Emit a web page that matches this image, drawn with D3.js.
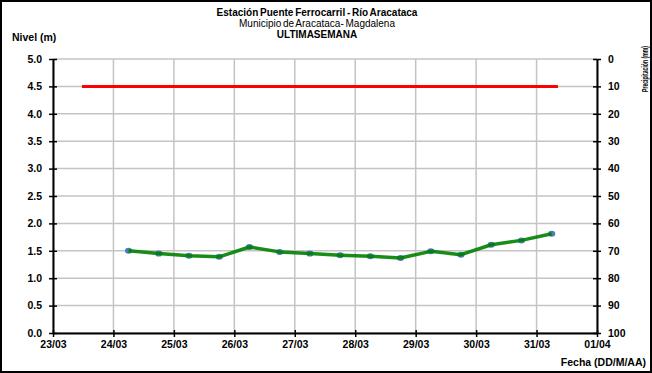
<!DOCTYPE html>
<html>
<head>
<meta charset="utf-8">
<script src="https://cdn.jsdelivr.net/npm/d3@7"></script>
<style>
  body { margin: 0; background: #fff; }
  text { font-family: "Liberation Sans", Arial, sans-serif; }
</style>
</head>
<body>
<div id="chart"></div>
<script>
// nivel del rio, ultima semana
var fechas = ["24/03 06:00", "24/03 18:00", "25/03 06:00", "25/03 18:00", "26/03 06:00",
  "26/03 18:00", "27/03 06:00", "27/03 18:00", "28/03 06:00", "28/03 18:00",
  "29/03 06:00", "29/03 18:00", "30/03 06:00", "30/03 18:00", "31/03 06:00"];
var nivel = [1.50, 1.45, 1.41, 1.39, 1.57, 1.48, 1.45, 1.42, 1.40, 1.37, 1.49, 1.43, 1.61, 1.69, 1.81];

// nivel de alerta
var umbralFechas = ["23/03 11:30", "31/03 08:30"];
var umbralNivel = [4.5, 4.5];

var dominioFechas = ["23/03 00:00", "01/04 00:00"];
var ticksNivel = [0, 0.5, 1, 1.5, 2, 2.5, 3, 3.5, 4, 4.5, 5];
var ticksPrecip = [0, 10, 20, 30, 40, 50, 60, 70, 80, 90, 100];

var W = 652, H = 373;
var margin = {top: 59, right: 55, bottom: 40, left: 53};

var parseFecha = d3.timeParse("%d/%m %H:%M");

var svg = d3.select("#chart").append("svg")
  .attr("width", W)
  .attr("height", H);

// marco exterior
svg.append("rect")
  .attr("x", 1).attr("y", 1)
  .attr("width", W - 2).attr("height", H - 2)
  .attr("fill", "#fff")
  .attr("stroke", "#000")
  .attr("stroke-width", 2);

var x = d3.scaleTime()
  .domain(dominioFechas.map(parseFecha))
  .range([margin.left, W - margin.right]);
var y = d3.scaleLinear().domain([0, 5]).range([H - margin.bottom, margin.top]);
var y2 = d3.scaleLinear().domain([0, 100]).range([margin.top, H - margin.bottom]);

var dias = d3.timeDay.range(x.domain()[0], d3.timeDay.offset(x.domain()[1], 1));

// grid
svg.append("g").selectAll("line.h")
  .data(ticksNivel)
  .enter().append("line")
    .attr("x1", margin.left).attr("x2", W - margin.right)
    .attr("y1", function(d) { return y(d); })
    .attr("y2", function(d) { return y(d); })
    .attr("stroke", "#c4c4c4")
    .attr("stroke-width", 1.5);

svg.append("g").selectAll("line.v")
  .data(dias)
  .enter().append("line")
    .attr("x1", function(d) { return x(d); })
    .attr("x2", function(d) { return x(d); })
    .attr("y1", margin.top).attr("y2", H - margin.bottom)
    .attr("stroke", "#c4c4c4")
    .attr("stroke-width", 1.5);

// ejes
var yAxis = svg.append("g")
  .attr("transform", "translate(" + margin.left + ",0)")
  .call(d3.axisLeft(y).tickValues(ticksNivel).tickFormat(d3.format(".1f")).tickSizeInner(4).tickSizeOuter(0).tickPadding(7));

var y2Axis = svg.append("g")
  .attr("transform", "translate(" + (W - margin.right) + ",0)")
  .call(d3.axisRight(y2).tickValues(ticksPrecip).tickFormat(d3.format("d")).tickSizeInner(4).tickSizeOuter(0).tickPadding(7));

var xAxis = svg.append("g")
  .attr("transform", "translate(0," + (H - margin.bottom) + ")")
  .call(d3.axisBottom(x).tickValues(dias).tickFormat(d3.timeFormat("%d/%m")).tickSizeInner(4).tickSizeOuter(0).tickPadding(4));

[yAxis, y2Axis, xAxis].forEach(function(a) {
  a.select(".domain").attr("stroke", "#000").attr("stroke-width", 2);
  a.selectAll(".tick line").attr("stroke", "#000").attr("stroke-width", 1.5);
  a.selectAll(".tick text")
    .style("font-size", "10.5px")
    .style("font-weight", "bold")
    .style("font-family", "\"Liberation Sans\", Arial, sans-serif")
    .attr("fill", "#000");
});
// marcas que cruzan el eje
yAxis.selectAll(".tick line").attr("x1", 4);
y2Axis.selectAll(".tick line").attr("x1", -4);
xAxis.selectAll(".tick line").attr("y1", -3);

// umbral
var umbral = umbralFechas.map(function(f, i) { return {t: parseFecha(f), v: umbralNivel[i]}; });
var linea = d3.line()
  .x(function(d) { return x(d.t); })
  .y(function(d) { return y(d.v); });

svg.append("path")
  .datum(umbral)
  .attr("d", linea)
  .attr("fill", "none")
  .attr("stroke", "#ff0000")
  .attr("stroke-width", 3);

// serie nivel
var datos = fechas.map(function(f, i) { return {t: parseFecha(f), v: nivel[i]}; });

svg.append("g").selectAll("ellipse")
  .data(datos)
  .enter().append("ellipse")
    .attr("cx", function(d) { return x(d.t); })
    .attr("cy", function(d) { return y(d.v); })
    .attr("rx", 3.6).attr("ry", 3)
    .attr("fill", "#4a7ebb");

svg.append("path")
  .datum(datos)
  .attr("d", linea)
  .attr("fill", "none")
  .attr("stroke", "#008000")
  .attr("stroke-width", 3.5)
  .attr("stroke-linejoin", "round")
  .attr("opacity", 0.9);

// titulos
var titulos = [
  {t: "Estación Puente Ferrocarril - Río Aracataca", y: 16, w: "bold"},
  {t: "Municipio de Aracataca- Magdalena", y: 27, w: "normal"},
  {t: "ULTIMA SEMANA", y: 38, w: "bold"}
];
svg.selectAll("text.titulo")
  .data(titulos)
  .enter().append("text")
    .attr("class", "titulo")
    .attr("x", 317)
    .attr("y", function(d) { return d.y; })
    .attr("text-anchor", "middle")
    .style("font-size", "10px")
    .style("font-weight", function(d) { return d.w; })
    .style("word-spacing", function(d, i) { return i === 2 ? "-2.5px" : "-1px"; })
    .text(function(d) { return d.t; });

svg.append("text")
  .attr("x", 12).attr("y", 41)
  .style("font-size", "10.5px")
  .style("font-weight", "bold")
  .text("Nivel (m)");

svg.append("text")
  .attr("x", 646).attr("y", 366)
  .attr("text-anchor", "end")
  .style("font-size", "10.5px")
  .style("font-weight", "bold")
  .text("Fecha (DD/M/AA)");

// etiqueta eje derecho, pegada al borde
svg.append("text")
  .attr("transform", "translate(648,92) rotate(-90)")
  .attr("textLength", 46)
  .attr("lengthAdjust", "spacingAndGlyphs")
  .style("font-size", "8.5px")
  .style("font-weight", "bold")
  .text("Precipitación (mm)");
</script>
</body>
</html>
